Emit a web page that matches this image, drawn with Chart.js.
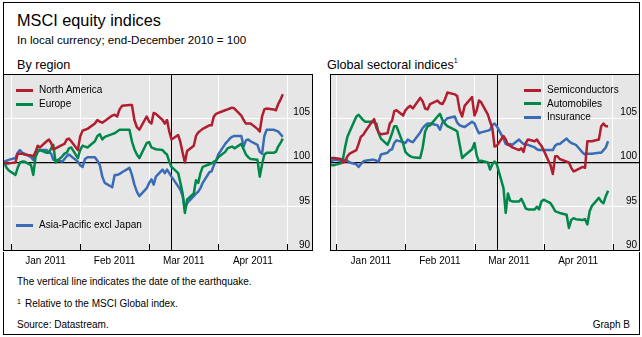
<!DOCTYPE html>
<html>
<head>
<meta charset="utf-8">
<script src="https://cdn.jsdelivr.net/npm/chart.js@4.4.1/dist/chart.umd.min.js"></script>
<style>
  body { margin: 0; background: #fff; }
  #fig { position: relative; width: 642px; height: 337px; overflow: hidden;
         font-family: "Liberation Sans", Arial, sans-serif; color: #000; }
  #fig div, #fig canvas { position: absolute; }
  .box { left: 3px; top: 2px; width: 637px; height: 333px; border: 1px solid #000; box-sizing: border-box; }
  .t { white-space: nowrap; line-height: 1; }
  .title { left: 17px; top: 12px; font-size: 16.3px; }
  .sub { left: 17px; top: 33.5px; font-size: 11.6px; }
  .panel { top: 58.5px; font-size: 12.6px; }
  .panel sup { font-size: 7px; vertical-align: 6px; line-height: 0; }
  .note { font-size: 10px; }
  .sw { width: 17px; height: 3px; }
  .lg { font-size: 10px; }
</style>
</head>
<body>
<div id="fig">
  <div class="box"></div>
  <div class="t title">MSCI equity indices</div>
  <div class="t sub">In local currency; end-December 2010 = 100</div>
  <div class="t panel" style="left:17px">By region</div>
  <div class="t panel" style="left:327px">Global sectoral indices<sup>1</sup></div>
  <canvas id="regions" width="320" height="210" style="left:0;top:60px"></canvas>
  <canvas id="sectors" width="320" height="210" style="left:322px;top:60px"></canvas>
  <div class="t note" style="left:17px;top:276.5px">The vertical line indicates the date of the earthquake.</div>
  <div class="t note" style="left:17px;top:298.5px"><span style="font-size:7px;position:relative;top:-3px">1</span></div>
  <div class="t note" style="left:25px;top:298.5px">Relative to the MSCI Global index.</div>
  <div class="t note" style="left:17px;top:319.5px">Source: Datastream.</div>
  <div class="t note" style="right:12px;top:319.5px">Graph B</div>
</div>
<script>
// daily closes, 29 Dec 2010 to 29 Apr 2011 (weekdays), end-Dec 2010 = 100
const firstDay = new Date(2010, 11, 29);
const lastDay = new Date(2011, 3, 29);
const quakeDay = new Date(2011, 2, 11);
const monthLabels = ['Jan 2011', 'Feb 2011', 'Mar 2011', 'Apr 2011'];
const yTicks = [90, 95, 100, 105, 110];

const northAmerica = [
  100.0, 99.9, 99.9,
  100.0, 101.0, 101.0, 101.0, 100.9, 100.8, 100.7, 101.2, 101.9, 101.7, 102.4, 102.6, 102.2, 101.5, 101.6, 102.0, 102.1, 102.6, 102.7, 102.4, 101.4,
  102.9, 103.6, 103.7, 103.8, 104.4, 104.8, 104.6, 104.5, 104.7, 105.3, 105.4, 105.2, 106.0, 106.4, 106.5, 106.5, 104.8, 104.0, 103.7, 105.2,
  104.6, 104.4, 105.6, 105.5, 104.8, 104.4, 104.8, 103.5, 102.6, 103.1, 102.3, 101.1, 100.0, 101.3, 101.9, 103.0, 103.4, 103.6, 103.8, 104.2, 104.2, 105.2, 105.5,
  105.6, 105.9, 106.0, 106.1, 106.2, 106.1, 105.3, 104.8, 104.4, 104.4, 104.4, 103.8, 103.5, 105.2, 106.0, 106.1, 106.0, 105.9, 106.6, 107.1, 107.7
];
const europe = [
  100.0, 99.4, 99.1,
  98.6, 99.4, 100.0, 100.1, 100.1, 99.7, 98.6, 100.6, 101.2, 101.4, 101.1, 101.1, 101.6, 102.0, 100.0, 100.7, 101.0, 101.1, 101.6, 101.7, 100.5,
  101.4, 101.9, 101.8, 101.7, 102.4, 103.0, 103.2, 102.6, 102.9, 103.2, 103.3, 103.5, 103.7, 103.7, 103.7, 102.4, 101.5, 100.9, 100.5, 102.2,
  102.3, 101.7, 101.6, 101.5, 101.4, 101.1, 100.9, 100.1, 99.5, 98.8, 97.7, 96.5, 94.3, 95.8, 96.5, 98.0, 97.7, 98.8, 99.5, 99.8, 99.9, 100.1, 100.2,
  100.6, 101.2, 101.6, 101.7, 101.8, 101.6, 102.1, 101.5, 100.9, 100.6, 100.4, 100.3, 98.4, 99.8, 100.9, 101.1, 101.1, 101.2, 101.8, 102.2, 102.7
];
const asiaPacific = [
  100.1, 100.2, 100.3,
  100.5, 101.1, 101.4, 101.1, 101.0, 100.6, 100.3, 100.9, 101.4, 101.4, 101.4, 101.2, 101.0, 100.3, 100.3, 100.1, 100.4, 100.7, 100.9, 100.7, 100.1,
  99.7, 99.5, 100.4, 100.6, 100.6, 100.2, 99.7, 98.4, 97.7, 97.2, 98.6, 98.6, 98.7, 98.9, 99.4, 98.6, 97.5, 96.7, 96.2, 97.1,
  97.7, 98.1, 97.5, 98.4, 99.2, 98.8, 99.2, 98.8, 98.4, 97.3, 96.9, 96.2, 94.8, 95.4, 96.2, 96.5, 96.7, 97.1, 97.7, 98.9, 99.0, 99.7, 100.2,
  100.9, 102.1, 102.4, 102.7, 102.9, 103.0, 103.0, 101.8, 102.5, 102.6, 102.4, 102.0, 101.2, 101.0, 103.0, 103.7, 103.7, 103.6, 103.5, 103.2, 102.9
];
const semiconductors = [
  100.4, 100.5, 100.5,
  100.4, 100.0, 100.1, 100.7, 101.0, 101.4, 102.1, 102.9, 103.1, 103.5, 104.6, 104.9, 103.9, 103.4, 103.2, 103.3, 104.4, 104.7, 105.8, 105.9, 105.3,
  105.9, 106.2, 106.4, 106.1, 107.3, 106.9, 106.1, 106.0, 106.6, 107.0, 106.7, 106.6, 107.1, 107.9, 107.7, 107.5, 105.9, 105.2, 106.4, 107.4,
  105.3, 105.9, 107.0, 106.8, 105.4, 104.6, 103.9, 101.8, 101.9, 103.0, 102.6, 102.0, 101.9, 101.7, 101.4, 101.6, 101.2, 102.2, 102.6, 102.4, 102.6, 102.2, 101.9,
  101.4, 99.7, 98.7, 100.7, 100.7, 100.4, 100.1, 100.0, 99.4, 99.0, 99.1, 99.5, 99.4, 102.4, 102.4, 102.4, 102.6, 104.1, 104.4, 104.1, 104.1
];
const automobiles = [
  99.8, 99.7, 99.7,
  99.9, 100.4, 101.8, 102.9, 103.5, 105.2, 105.4, 105.1, 104.8, 104.6, 104.6, 104.5, 104.4, 103.3, 102.7, 102.0, 102.6, 103.3, 104.1, 104.1, 102.1,
  101.2, 100.9, 100.7, 100.6, 100.5, 101.7, 103.5, 104.1, 104.2, 105.2, 105.5, 104.8, 104.4, 104.1, 103.7, 103.5, 102.0, 100.5, 100.8, 101.5,
  102.2, 100.8, 100.1, 100.2, 100.0, 99.2, 99.8, 100.1, 99.8, 97.1, 94.3, 96.5, 95.7, 95.6, 95.6, 95.9, 95.4, 94.8, 94.7, 94.7, 95.0, 94.7, 95.6,
  95.8, 95.4, 95.0, 94.5, 94.4, 94.3, 94.1, 92.6, 93.5, 93.7, 93.6, 93.5, 93.6, 93.0, 94.5, 95.1, 96.0, 95.6, 95.4, 96.2, 96.8
];
const insurance = [
  100.0, 100.2, 100.3,
  100.2, 100.2, 100.3, 100.2, 100.0, 99.8, 99.5, 99.8, 100.1, 100.2, 100.3, 100.3, 100.2, 100.1, 100.9, 101.1, 101.4, 101.5, 102.2, 102.5, 102.3,
  102.2, 102.6, 102.4, 102.3, 103.4, 103.9, 104.2, 104.4, 104.4, 104.2, 103.7, 104.5, 104.7, 105.0, 105.2, 104.5, 104.2, 104.1, 104.0, 104.6,
  104.4, 103.8, 103.3, 103.4, 103.6, 103.7, 104.2, 104.4, 104.1, 102.7, 102.1, 102.0, 102.1, 102.0, 102.6, 102.3, 102.1, 102.0, 102.0, 101.7, 101.5, 101.4, 101.4,
  101.4, 101.4, 101.4, 101.9, 102.1, 102.1, 102.7, 102.4, 102.2, 102.1, 102.0, 101.1, 100.9, 101.0, 101.0, 101.0, 101.1, 101.1, 101.4, 101.7, 102.4
];

const RED = '#b01e2f', GREEN = '#00884a', BLUE = '#3a6cb6';
const FONT = '"Liberation Sans", Arial, sans-serif';

// position on the axis in months, 0 = 1 Jan 2011
function monthPos(d) {
  const idx = (d.getFullYear() - 2011) * 12 + d.getMonth();
  const dim = new Date(d.getFullYear(), d.getMonth() + 1, 0).getDate();
  return idx + (d.getDate() - 1) / dim;
}
function weekdays(from, to) {
  const out = [];
  for (let d = new Date(from); d <= to; d.setDate(d.getDate() + 1)) {
    if (d.getDay() !== 0 && d.getDay() !== 6) out.push(new Date(d));
  }
  return out;
}
const dayPos = weekdays(firstDay, lastDay).map(monthPos);

const panelPlugin = {
  id: 'panel',
  beforeDraw(chart) {
    const { ctx, chartArea: a } = chart;
    ctx.save();
    ctx.fillStyle = '#e6e6e6';
    ctx.fillRect(a.left, a.top, a.width, a.height);
    ctx.restore();
  },
  beforeDatasetsDraw(chart) {
    const { ctx, chartArea: a, scales } = chart;
    ctx.save();
    ctx.strokeStyle = '#000';
    ctx.lineWidth = 1;
    const qx = Math.round(scales.x.getPixelForValue(monthPos(quakeDay))) + 0.5;
    ctx.beginPath();
    ctx.moveTo(qx, a.top);
    ctx.lineTo(qx, a.bottom);
    // month tick marks sit inside the panel
    for (let m = 0; m <= 4; m++) {
      const tx = Math.round(scales.x.getPixelForValue(m)) + 0.5;
      ctx.moveTo(tx, a.bottom);
      ctx.lineTo(tx, a.bottom - 7);
    }
    ctx.stroke();
    ctx.restore();
  },
  afterDraw(chart) {
    const { ctx, chartArea: a } = chart;
    ctx.save();
    ctx.strokeStyle = '#000';
    ctx.lineWidth = 1;
    ctx.strokeRect(a.left + 0.5, a.top + 0.5, a.width - 1, a.height - 1);
    ctx.restore();
  }
};

function drawPanel(id, series, padding, xMin, xMax) {
  return new Chart(document.getElementById(id), {
    type: 'line',
    data: {
      datasets: series.map(s => ({
        label: s.label,
        data: s.values.map((v, i) => ({ x: dayPos[i], y: v })),
        borderColor: s.color,
        borderWidth: 2.5,
        borderJoinStyle: 'round',
        pointRadius: 0,
        tension: 0
      }))
    },
    options: {
      responsive: false,
      animation: false,
      layout: { padding },
      plugins: { legend: { display: false }, tooltip: { enabled: false } },
      scales: {
        x: {
          type: 'linear',
          min: xMin,
          max: xMax,
          afterBuildTicks: s => { s.ticks = [0, 1, 2, 3, 4].map(v => ({ value: v })); },
          afterFit: s => { s.height = 19; s.paddingLeft = 0; s.paddingRight = 0; },
          grid: { color: '#fff', lineWidth: 1, drawTicks: false },
          border: { display: false },
          ticks: {
            autoSkip: false, maxRotation: 0, padding: 4, labelOffset: 34.5,
            color: '#000', font: { family: FONT, size: 10 },
            callback: v => monthLabels[v] || ''
          }
        },
        y: {
          position: 'right',
          min: 90,
          max: 110,
          afterBuildTicks: s => { s.ticks = yTicks.map(v => ({ value: v })); },
          afterFit: s => { s.width = 0; s.paddingTop = 0; s.paddingBottom = 0; },
          grid: {
            drawTicks: false,
            color: c => c.tick.value === 100 ? '#000' : '#fff',
            lineWidth: c => c.tick.value === 100 ? 1.3 : 1
          },
          border: { display: false },
          ticks: {
            // mirrored labels hang inside the right edge of the panel
            mirror: true, padding: -3, labelOffset: -6, autoSkip: false,
            color: '#000', font: { family: FONT, size: 10 },
            callback: v => v === 110 ? '' : String(v)
          }
        }
      }
    },
    plugins: [panelPlugin]
  });
}

drawPanel('regions', [
  { label: 'North America', values: northAmerica, color: RED },
  { label: 'Europe', values: europe, color: GREEN },
  { label: 'Asia-Pacific excl Japan', values: asiaPacific, color: BLUE }
], { left: 3, right: 7, top: 14, bottom: 0 }, -0.1158, 4.3705);

drawPanel('sectors', [
  { label: 'Semiconductors', values: semiconductors, color: RED },
  { label: 'Automobiles', values: automobiles, color: GREEN },
  { label: 'Insurance', values: insurance, color: BLUE }
], { left: 8, right: 2, top: 14, bottom: 0 }, -0.0912, 4.3951);

// legend keys placed inside each panel
const legendKeys = [
  { text: 'North America', color: RED, x: 16, y: 90 },
  { text: 'Europe', color: GREEN, x: 16, y: 104 },
  { text: 'Asia-Pacific excl Japan', color: BLUE, x: 16, y: 225 },
  { text: 'Semiconductors', color: RED, x: 524, y: 90 },
  { text: 'Automobiles', color: GREEN, x: 524, y: 103.5 },
  { text: 'Insurance', color: BLUE, x: 524, y: 117 }
];
const fig = document.getElementById('fig');
legendKeys.forEach(k => {
  const sw = document.createElement('div');
  sw.className = 'sw';
  sw.style.cssText = `left:${k.x}px;top:${k.y - 1.5}px;background:${k.color}`;
  const tx = document.createElement('div');
  tx.className = 't lg';
  tx.style.cssText = `left:${k.x + 23}px;top:${k.y - 5}px`;
  tx.textContent = k.text;
  fig.appendChild(sw);
  fig.appendChild(tx);
});
</script>
</body>
</html>
